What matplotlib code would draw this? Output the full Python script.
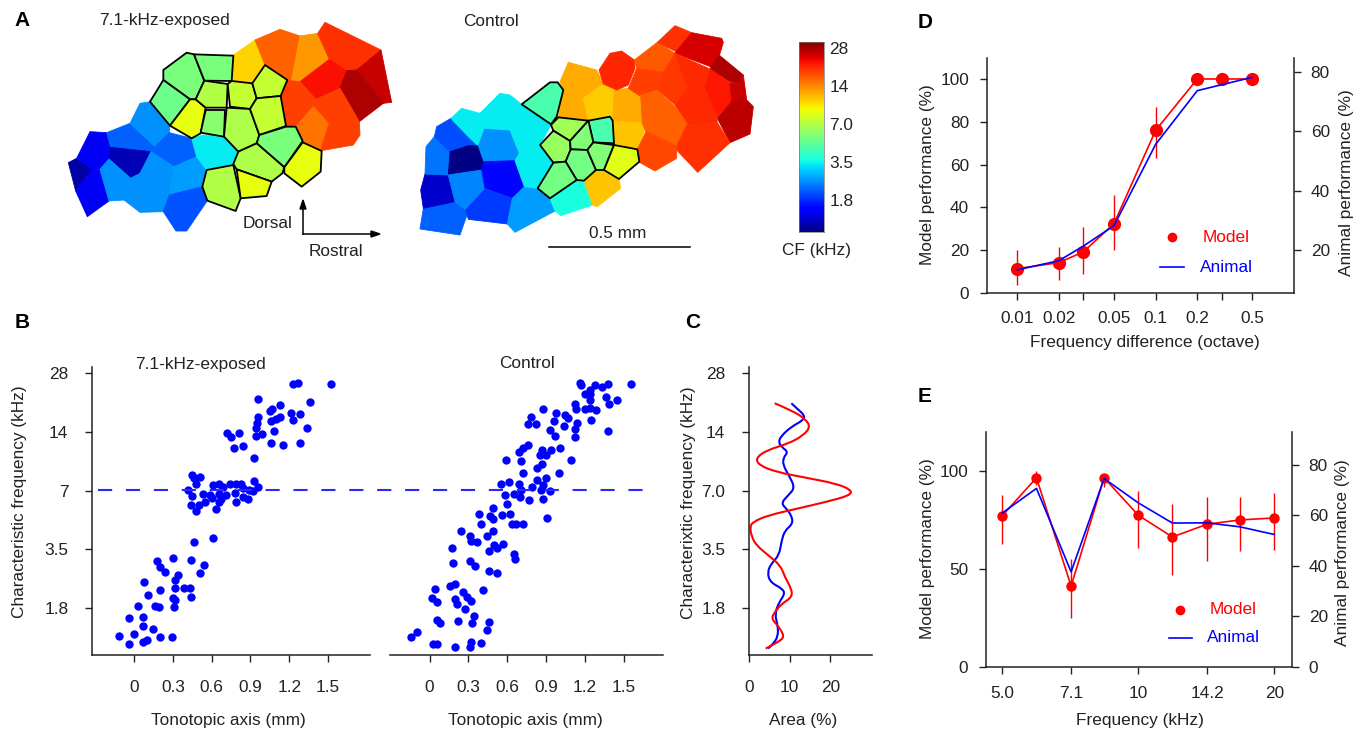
import matplotlib
matplotlib.use('Agg')
import matplotlib.pyplot as plt
import numpy as np
from matplotlib.collections import PolyCollection
from matplotlib.colors import LogNorm
from matplotlib.lines import Line2D
from matplotlib.patches import PathPatch
from matplotlib.path import Path

plt.rcParams['font.family'] = ['Liberation Sans', 'DejaVu Sans']

W, H = 1368, 733
FS = 12.4
DARK = '#222222'

# --- panel A: cells of the two maps, (map units, cf in kHz)
exposed_cells = [
    ([(55,458),(80,445),(127,478),(77,543)], 1.1),
    ([(127,478),(150,480),(177,573),(112,620),(77,543)], 1.4),
    ([(120,365),(170,368),(182,412),(177,447),(150,478),(127,478),(80,445)], 1.4),
    ([(170,368),(240,340),(315,410),(303,425),(182,412)], 2.1),
    ([(182,412),(303,425),(270,490),(242,505),(177,447)], 1.17),
    ([(177,447),(242,505),(222,570),(177,573),(150,478)], 2.5),
    ([(240,340),(270,280),(300,275),(360,345),(358,368),(315,410)], 2.5),
    ([(315,410),(358,368),(425,385),(440,440),(372,470),(303,425)], 2.1),
    ([(303,425),(372,470),(358,555),(340,605),(270,607),(222,570),(242,505),(270,490)], 2.5),
    ([(372,470),(440,440),(470,480),(457,530),(358,555)], 2.6),
    ([(358,555),(457,530),(472,572),(410,663),(378,663),(340,605)], 2.0),
    ([(425,385),(460,375),(522,380),(565,425),(550,462),(470,480),(440,440)], 3.4),
    ([(615,90),(645,165),(607,220),(545,213),(550,135)], 10.6),
    ([(615,90),(690,58),(750,78),(725,210),(710,210),(645,165)], 16),
    ([(750,78),(803,70),(838,148),(750,215),(725,210)], 13.1),
    ([(803,70),(825,37),(993,120),(920,180),(890,182),(838,148)], 19.2),
    ([(838,148),(890,182),(870,235),(798,268),(750,215)], 21.6),
    ([(993,120),(1025,277),(1000,280),(920,180)], 25),
    ([(890,182),(920,180),(1000,280),(928,335),(870,235)], 27),
    ([(710,210),(750,215),(798,268),(790,290),(737,350),(708,348),(692,260)], 18),
    ([(798,268),(870,235),(928,335),(930,375),(910,405),(808,423),(835,340),(790,290)], 18),
    ([(790,290),(835,340),(808,423),(755,397),(737,350)], 15),
]
exposed_outlined = [
    ([(340,180),(410,128),(432,133),(463,212),(437,268),(420,268),(340,210)], 5.5),
    ([(432,133),(550,137),(545,213),(463,212)], 5.5),
    ([(340,210),(420,268),(360,347),(300,275)], 5.2),
    ([(420,268),(437,268),(467,293),(452,370),(425,385),(360,347)], 8.7),
    ([(463,212),(533,222),(530,293),(467,293),(437,268)], 6.9),
    ([(533,222),(545,213),(607,220),(620,265),(600,297),(540,290)], 7.5),
    ([(607,220),(645,165),(712,210),(692,258),(620,265)], 7.5),
    ([(467,300),(525,300),(522,380),(452,368)], 5.9),
    ([(530,293),(600,297),(628,375),(620,400),(565,425),(522,380)], 6.8),
    ([(600,297),(620,265),(692,258),(708,348),(628,375)], 7.5),
    ([(628,375),(708,350),(737,350),(758,393),(703,472),(620,400)], 5.5),
    ([(565,425),(620,400),(703,472),(697,490),(665,515),(560,478),(550,462)], 6.8),
    ([(758,397),(815,423),(812,485),(755,530),(703,490),(703,472)], 8.7),
    ([(470,480),(550,465),(572,565),(557,603),(472,572),(457,530)], 6.9),
    ([(560,478),(665,515),(650,558),(572,565)], 8.7),
]
control_cells = [
    ([(60,657),(70,595),(165,575),(205,603),(180,675)], 2.1),
    ([(62,540),(75,492),(145,495),(165,575),(70,595)], 1.25),
    ([(75,492),(78,410),(103,380),(150,425),(145,495)], 2.25),
    ([(103,380),(110,350),(153,325),(205,380),(235,408),(150,425)], 1.97),
    ([(153,325),(185,295),(240,310),(255,355),(235,408),(205,380)], 3.4),
    ([(145,495),(150,425),(205,407),(235,408),(252,455),(245,480)], 1.0),
    ([(145,495),(245,480),(255,535),(197,600),(165,575)], 2.4),
    ([(235,408),(255,355),(330,360),(358,430),(345,452),(252,455)], 2.5),
    ([(252,455),(345,452),(373,530),(337,565),(255,535),(245,480)], 1.55),
    ([(197,600),(255,537),(337,565),(322,642),(205,628)], 1.85),
    ([(337,565),(373,530),(413,535),(450,565),(465,603),(345,667),(322,642)], 2.6),
    ([(240,310),(300,250),(330,255),(365,283),(453,345),(420,405),(460,458),(413,535),(373,530),(345,452),(358,430),(330,360),(255,355)], 3.4),
    ([(450,565),(530,512),(552,512),(578,585),(483,617),(465,603)], 3.7),
    ([(552,512),(585,482),(612,480),(657,507),(662,535),(592,590),(578,585)], 11.1),
    ([(505,157),(590,180),(610,222),(550,265),(565,330),(475,322),(490,240),(480,215)], 12.3),
    ([(550,265),(610,222),(643,240),(638,322),(565,330)], 10.8),
    ([(643,240),(685,235),(722,255),(727,340),(638,332)], 12.3),
    ([(638,332),(727,340),(738,352),(712,418),(642,405)], 11.1),
    ([(597,180),(630,130),(665,123),(703,150),(705,175),(685,225),(650,240),(610,222)], 20),
    ([(703,150),(772,97),(825,130),(790,187),(710,175)], 16.5),
    ([(710,175),(790,187),(772,240),(720,258),(685,235)], 18),
    ([(772,97),(825,47),(875,68),(828,125)], 19.2),
    ([(828,125),(875,68),(965,85),(970,97),(957,140),(932,170),(825,130)], 24),
    ([(790,187),(825,130),(862,235),(825,285),(772,240)], 18.6),
    ([(825,130),(932,178),(915,232),(950,320),(952,338),(890,345),(862,342),(825,285),(862,235)], 19.6),
    ([(957,135),(1030,195),(1015,220),(990,215),(932,180),(932,170)], 27),
    ([(932,178),(990,218),(995,275),(952,322),(915,232)], 21),
    ([(990,218),(1015,220),(1030,195),(1040,270),(995,275)], 25),
    ([(995,275),(1040,270),(1060,290),(1050,372),(990,398),(952,325)], 26),
    ([(722,255),(772,242),(825,290),(862,342),(830,408),(738,365),(727,340)], 16),
    ([(862,342),(890,345),(952,338),(990,398),(893,487),(830,420),(830,408)], 19.2),
    ([(738,365),(830,408),(830,445),(765,483),(715,455),(712,418)], 17.5),
]
control_outlined = [
    ([(365,283),(450,217),(473,217),(490,240),(470,320),(453,343)], 4.5),
    ([(453,345),(475,322),(565,332),(510,393),(460,362)], 6.5),
    ([(565,332),(630,320),(638,332),(642,400),(580,397)], 4.5),
    ([(460,362),(510,393),(512,420),(497,455),(460,458),(420,405)], 6.2),
    ([(565,332),(580,397),(562,420),(512,418),(510,393)], 5.7),
    ([(512,418),(562,420),(588,480),(552,512),(530,510),(497,455)], 5.4),
    ([(580,397),(642,405),(612,480),(588,480),(562,420)], 5.7),
    ([(642,405),(712,418),(718,455),(657,507),(612,480)], 8.5),
    ([(460,458),(497,455),(530,510),(450,565),(413,535)], 5.4),
]
cbar_ticks = [28, 14, 7, 3.5, 1.75]
cbar_labels = ['28', '14', '7.0', '3.5', '1.8']

# --- panel B: tonotopic position (mm), CF in octaves re 7 kHz
exp_x = [1.52,1.23,1.27,.96,1.36,1.13,1.07,1.05,1.21,1.28,1.13,1.10,1.06,1.23,.96,.95,.94,1.34,1.08,.99,.94,.72,.81,.75,1.06,1.15,1.28,.84,.77,.93,
         .45,.46,.51,.48,.93,.61,.66,.69,.74,.79,.83,.84,.89,.92,.96,.42,.45,.53,.59,.60,.66,.71,.78,.84,.88,.79,.66,.67,.55,.44,.50,.48,.63,
         .61,.46,.30,.44,.18,.20,.54,.24,.51,.34,.32,.08,.32,.39,.43,.20,.11,.44,.30,.32,.03,.16,.19,.31,-.04,.07,.07,.15,0,-.12,.20,.29,.07,.10,-.04]
exp_y = [1.81,1.81,1.84,1.57,1.52,1.46,1.40,1.35,1.32,1.30,1.25,1.22,1.18,1.20,1.26,1.16,1.06,1.07,1.01,.97,.93,.99,.99,.91,.81,.78,.81,.77,.72,.55,
         .27,.21,.23,.12,.16,.09,.12,.06,.12,.11,.11,.04,.02,-.01,.06,.01,-.09,-.06,-.08,-.13,-.05,-.07,-.04,-.11,-.15,-.19,-.19,-.15,-.19,-.24,-.25,-.34,-.32,
         -.80,-.87,-1.15,-1.18,-1.19,-1.30,-1.27,-1.39,-1.40,-1.44,-1.53,-1.56,-1.65,-1.66,-1.66,-1.70,-1.77,-1.82,-1.83,-1.87,-1.96,-1.97,-1.99,-1.98,-2.17,-2.15,-2.30,-2.35,-2.44,-2.47,-2.49,-2.50,-2.57,-2.55,-2.62]
ctl_x = [1.56,1.16,1.17,1.28,1.38,1.33,1.24,1.20,1.24,1.36,1.45,1.24,1.39,1.12,1.13,1.20,1.24,1.29,.88,.98,1.05,1.07,.78,.96,1.14,1.25,.76,.82,1.04,1.12,.93,.97,1.38,1.12,
         .76,.72,.69,.87,.94,1.01,.85,.90,.59,.71,1.09,.87,.83,.72,1.00,.90,.83,.61,.55,.69,.88,.79,.86,.93,.71,.65,.58,.70,.77,.88,.60,.49,.38,.47,.49,.56,.62,.91,
         .40,.64,.67,.72,.49,.24,.44,.31,.32,.37,.57,.50,.52,.17,.46,.65,.66,.18,.31,.35,.46,.52,.20,.16,.04,.41,.26,.29,.32,.02,.06,.20,.21,.27,.34,.06,.08,.22,.33,.46,.44,-.10,-.14,.03,.06,.20,.32,.31,.40]
ctl_y = [1.82,1.84,1.80,1.80,1.81,1.76,1.71,1.65,1.65,1.60,1.55,1.54,1.48,1.48,1.39,1.40,1.41,1.38,1.39,1.33,1.29,1.24,1.25,1.19,1.15,1.20,1.13,1.13,1.11,1.05,1.03,.94,1.01,.92,
         .78,.73,.66,.70,.70,.73,.60,.60,.53,.51,.53,.46,.39,.30,.30,.22,.19,.15,.11,.11,.10,.06,.01,0,.01,-.05,-.08,-.11,-.16,-.15,-.23,-.29,-.40,-.43,-.49,-.41,-.39,-.46,
         -.57,-.57,-.56,-.57,-.68,-.69,-.78,-.78,-.86,-.88,-.90,-.93,-.98,-.98,-1.03,-1.08,-1.17,-1.23,-1.20,-1.28,-1.36,-1.41,-1.59,-1.63,-1.68,-1.69,-1.73,-1.82,-1.88,-1.83,-1.90,-1.84,-1.93,-2.01,-2.13,-2.21,-2.25,-2.22,-2.26,-2.24,-2.37,-2.41,-2.49,-2.61,-2.61,-2.67,-2.58,-2.66,-2.60]
oct_ticks = [2, 1, 0, -1, -2]
b_xticks = [0, 0.3, 0.6, 0.9, 1.2, 1.5]
b_xlabels = ['0', '0.3', '0.6', '0.9', '1.2', '1.5']

# --- panel C: area (%) against CF in octaves re 7 kHz
blue_oct = [1.49,1.40,1.28,1.20,1.09,.94,.83,.74,.66,.56,.43,.26,.05,-.08,-.21,-.31,-.42,-.56,-.68,-.85,-1.10,-1.24,-1.39,-1.56,-1.67,-1.76,-1.90,-2.10,-2.30,-2.49,-2.61,-2.69]
blue_area = [10.4,11.8,13.7,13.3,10.4,8.0,7.2,8.1,9.6,8.4,8.4,9.8,11.3,9.6,7.9,9.2,10.4,10.8,8.8,8.0,7.4,5.5,4.5,5.2,8.2,8.8,7.4,6.3,7.1,7.1,5.9,4.7]
red_oct = [1.49,1.37,1.23,1.09,.94,.80,.69,.55,.43,.32,.23,.12,.01,-.08,-.19,-.31,-.42,-.53,-.62,-.79,-.93,-1.10,-1.27,-1.47,-1.67,-1.81,-1.93,-2.07,-2.18,-2.30,-2.49,-2.58,-2.69]
red_area = [6.3,10.4,13.7,15.1,13.3,9.6,4.3,1.6,2.6,6.7,13.3,21.5,25.2,24.8,19.0,11.6,4.7,1.0,.2,.7,1.8,4.7,7.7,8.8,10.4,10.6,8.0,6.3,5.5,7.1,8.8,7.1,4.1]

# --- panel D
d_freq = [0.01, 0.02, 0.03, 0.05, 0.1, 0.2, 0.3, 0.5]
d_model = [11.4, 14.2, 19.2, 32.4, 76, 100, 100, 100]
d_hi = [20, 21.5, 30.9, 45.7, 86.7, 100, 100, 100]
d_lo = [3.9, 5.9, 9, 20, 62.9, 100, 100, 100]
d_animal = [13.3, 16.4, 21.3, 28.2, 55.6, 73.7, 75.7, 78.2]
d_labels = ['0.01', '0.02', '', '0.05', '0.1', '0.2', '', '0.5']

# --- panel E
e_freq = [5, 5.95, 7.1, 8.4, 10, 11.9, 14.2, 16.8, 20]
e_model = [77.3, 96.6, 41.3, 96.6, 77.5, 66.4, 72.9, 75.1, 76.1]
e_hi = [88, 100, 55, 98, 90, 83, 87, 87, 89]
e_lo = [63, 93, 25, 92, 61, 47, 54, 59, 60]
e_animal = [60.9, 70.6, 37.6, 74.5, 64.9, 56.9, 57, 55.4, 52.4]
e_ticks = [5, 7.1, 10, 14.2, 20]
e_labels = ['5.0', '7.1', '10', '14.2', '20']


fig = plt.figure(figsize=(W / 100, H / 100), dpi=100)


def px_axes(l, t, r, b):
    return fig.add_axes([l / W, 1 - b / H, (r - l) / W, (b - t) / H])


def txt(x, y, s, **kw):
    kw.setdefault('fontsize', FS)
    kw.setdefault('color', DARK)
    fig.text(x / W, 1 - y / H, s, ha='center', va='center', **kw)


def seg(x0, y0, x1, y1, **kw):
    fig.add_artist(Line2D([x0 / W, x1 / W], [1 - y0 / H, 1 - y1 / H], **kw))


def style(ax, hide=('top', 'right'), xpad=6, ypad=6):
    for s in hide:
        ax.spines[s].set_visible(False)
    for s in ax.spines.values():
        s.set_linewidth(1.1)
        s.set_color(DARK)
    ax.tick_params(length=5, width=1.0, color=DARK, labelcolor=DARK, labelsize=FS)
    ax.tick_params(axis='x', pad=xpad)
    ax.tick_params(axis='y', pad=ypad)
    ax.minorticks_off()


def smooth_curve(ax, x, y, color):
    # quadratic curve with the read points as controls
    pts = np.column_stack([x, y])
    mids = (pts[:-1] + pts[1:]) / 2
    verts = [pts[0]]
    codes = [Path.MOVETO]
    for p, m in zip(pts[1:-1], mids[1:]):
        verts += [p, m]
        codes += [Path.CURVE3, Path.CURVE3]
    verts.append(pts[-1])
    codes.append(Path.LINETO)
    ax.add_patch(PathPatch(Path(verts, codes), fill=False, edgecolor=color, lw=1.5))


# panel A
norm = LogNorm(vmin=7 * 2 ** -2.83, vmax=7 * 2 ** 2.16)


def draw_map(ax, cells, outlined, xmax, ymax):
    polys = [c[0] for c in cells]
    vals = [c[1] for c in cells]
    pc = PolyCollection(polys, array=vals, cmap='jet', norm=norm, edgecolors='face', linewidths=0.6)
    ax.add_collection(pc)
    polys = [c[0] for c in outlined]
    vals = [c[1] for c in outlined]
    pc = PolyCollection(polys, array=vals, cmap='jet', norm=norm, edgecolors='black', linewidths=1.3)
    ax.add_collection(pc)
    ax.set_xlim(0, xmax)
    ax.set_ylim(ymax, 0)
    ax.axis('off')


draw_map(px_axes(50, 10, 400, 260), exposed_cells, exposed_outlined, 1050, 750)
draw_map(px_axes(400, 10, 870, 270), control_cells, control_outlined, 1410, 780)

cax = px_axes(799, 42, 824, 232)
grad = np.logspace(np.log10(norm.vmin), np.log10(norm.vmax), 256).reshape(-1, 1)
cax.pcolormesh([0, 1], grad.ravel(), grad[:-1], cmap='jet', norm=norm)
cax.set_yscale('log')
cax.set_ylim(norm.vmin, norm.vmax)
cax.set_xticks([])
cax.yaxis.tick_right()
cax.set_yticks(cbar_ticks)
cax.set_yticklabels(cbar_labels)
cax.minorticks_off()
cax.tick_params(axis='y', length=0, labelsize=FS, labelcolor=DARK, pad=4)
for s in cax.spines.values():
    s.set_linewidth(0.5)
    s.set_color('#777777')

seg(303, 234, 303, 206, color='black', lw=1.1)
seg(303, 234, 374, 234, color='black', lw=1.1)
fig.add_artist(plt.Polygon([[303 / W, 1 - 200 / H], [300 / W, 1 - 209 / H], [306 / W, 1 - 209 / H]], color='black', transform=fig.transFigure))
fig.add_artist(plt.Polygon([[380 / W, 1 - 234 / H], [371 / W, 1 - 231 / H], [371 / W, 1 - 237 / H]], color='black', transform=fig.transFigure))
seg(549, 247, 690, 247, color='black', lw=1.1)

txt(164, 21, '7.1-kHz-exposed')
txt(491, 21, 'Control')
txt(268, 224, 'Dorsal')
txt(336, 251, 'Rostral')
txt(618, 234, '0.5 mm')
txt(817, 250, 'CF (kHz)')

# panel B
ax = px_axes(92, 367, 370, 655)
ax.scatter(exp_x, exp_y, s=36, color='#0000ff', linewidths=0, zorder=3)
ax.set_xlim(-0.325, 1.824)
ax.set_ylim(-2.80, 2.108)
ax.set_xticks(b_xticks)
ax.set_xticklabels(b_xlabels)
ax.set_yticks(oct_ticks)
ax.set_yticklabels(['28', '14', '7', '3.5', '1.8'])
style(ax, xpad=13, ypad=12)

ax = px_axes(390, 367, 663, 655)
ax.scatter(ctl_x, ctl_y, s=36, color='#0000ff', linewidths=0, zorder=3)
ax.set_xlim(-0.306, 1.804)
ax.set_ylim(-2.80, 2.108)
ax.set_xticks(b_xticks)
ax.set_xticklabels(b_xlabels)
ax.set_yticks([])
style(ax, hide=('top', 'right', 'left'), xpad=13)

seg(98, 490, 643, 490, color='#2a2aff', lw=1.5, dashes=(6.8, 6.6), zorder=5)

txt(200, 364, '7.1-kHz-exposed')
txt(527, 364, 'Control')
txt(228, 720, 'Tonotopic axis (mm)')
txt(525, 720, 'Tonotopic axis (mm)')
txt(20, 502, 'Characteristic frequency (kHz)', rotation=90)

# panel C
ax = px_axes(749, 367, 872, 655)
smooth_curve(ax, blue_area, blue_oct, '#0000ff')
smooth_curve(ax, red_area, red_oct, '#ff0000')
ax.set_xlim(0, 30.2)
ax.set_ylim(-2.80, 2.108)
ax.set_xticks([0, 10, 20])
ax.set_yticks(oct_ticks)
ax.set_yticklabels(['28', '14', '7.0', '3.5', '1.8'])
style(ax, xpad=13, ypad=12)
txt(803, 720, 'Area (%)')
txt(689, 503, 'Characterixtic frequency (kHz)', rotation=90)

# panel D
ax = px_axes(987, 58, 1294, 293)
ax.vlines(d_freq, d_lo, d_hi, color='#ff0000', lw=1.0)
ax.plot(d_freq, d_model, color='#ff0000', lw=1.2, marker='o', ms=9.5, mew=0)
ax.set_xscale('log')
ax.set_xlim(0.00604, 1.0)
ax.set_ylim(0, 109.8)
ax.set_xticks(d_freq)
ax.set_xticklabels(d_labels)
ax.set_yticks([0, 20, 40, 60, 80, 100])
style(ax, hide=('top',), xpad=8, ypad=8)
ax.tick_params(axis='x', which='minor', length=0)
ax.spines['right'].set_visible(False)
ax2 = ax.twinx()
ax2.plot(d_freq, d_animal, color='#0000ff', lw=1.2)
ax2.set_ylim(5.5, 84.7)
ax2.set_yticks([20, 40, 60, 80])
style(ax2, hide=('top', 'left', 'bottom'), ypad=7)
ax2.tick_params(axis='y', which='both', length=5)
txt(927, 175, 'Model performance (%)', rotation=90)
txt(1347, 183, 'Animal performance (%)', rotation=90)
txt(1145, 343, 'Frequency difference (octave)')
fig.add_artist(Line2D([1172 / W], [1 - 237 / H], marker='o', ms=7, mew=0, color='#ff0000'))
seg(1160, 267, 1184, 267, color='#0000ff', lw=1.2)
txt(1226, 237, 'Model', color='#ff0000')
txt(1226, 267, 'Animal', color='#0000ff')

# panel E
ax = px_axes(986, 432, 1292, 667)
ax.vlines(e_freq, e_lo, e_hi, color='#ff0000', lw=1.0)
ax.plot(e_freq, e_model, color='#ff0000', lw=1.2, marker='o', ms=7.5, mew=0)
ax.set_xscale('log')
ax.set_xlim(4.6, 21.9)
ax.set_ylim(0, 120)
ax.set_xticks(e_ticks)
ax.set_xticklabels(e_labels)
ax.set_yticks([0, 50, 100])
style(ax, hide=('top',), xpad=9, ypad=8)
ax.tick_params(axis='x', which='minor', length=0)
ax.spines['right'].set_visible(False)
ax2 = ax.twinx()
ax2.plot(e_freq, e_animal, color='#0000ff', lw=1.2)
ax2.set_ylim(0, 92.9)
ax2.set_yticks([0, 20, 40, 60, 80])
style(ax2, hide=('top', 'left', 'bottom'), ypad=7)
ax2.tick_params(axis='y', which='both', length=5)
txt(927, 549, 'Model performance (%)', rotation=90)
txt(1342, 553, 'Animal performance (%)', rotation=90)
txt(1140, 720, 'Frequency (kHz)')
fig.add_artist(Line2D([1180 / W], [1 - 610 / H], marker='o', ms=7, mew=0, color='#ff0000'))
seg(1169, 638, 1192, 638, color='#0000ff', lw=1.2)
txt(1233, 610, 'Model', color='#ff0000')
txt(1233, 638, 'Animal', color='#0000ff')

# panel letters
for x, y, s in [(22, 20, 'A'), (22, 322, 'B'), (693, 322, 'C'), (925, 22, 'D'), (925, 396, 'E')]:
    txt(x, y, s, fontsize=15, fontweight='bold', color='black')

fig.savefig('out.png', dpi=100)
